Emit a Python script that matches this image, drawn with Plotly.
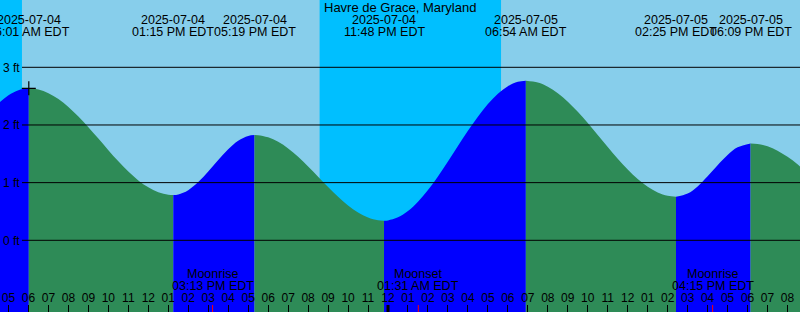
import plotly.graph_objects as go
import pandas as pd

station = "Havre de Grace, Maryland"

# Tide extremes (EDT)
ext_time = ["2025-07-04 06:01", "2025-07-04 13:15", "2025-07-04 17:19", "2025-07-04 23:48",
            "2025-07-05 06:54", "2025-07-05 14:25", "2025-07-05 18:09"]
ext_ft = [2.635, 0.785, 1.826, 0.34, 2.767, 0.756, 1.68]

# Half-hourly water level readings (ft), 2025-07-04 04:00 .. 2025-07-05 21:00
level_start = "2025-07-04 04:00"
level_step = "30min"
level_ft = [2.190, 2.375, 2.517, 2.604, 2.635, 2.615, 2.552, 2.450, 2.313, 2.147,
            1.961, 1.764, 1.563, 1.370, 1.192, 1.039, 0.918, 0.834, 0.790, 0.795,
            0.870, 1.009, 1.192, 1.392, 1.579, 1.726, 1.810, 1.823, 1.786, 1.707,
            1.592, 1.448, 1.282, 1.104, 0.925, 0.756, 0.605, 0.482, 0.395, 0.348,
            0.345, 0.398, 0.507, 0.667, 0.871, 1.108, 1.366, 1.634, 1.898, 2.144,
            2.363, 2.541, 2.672, 2.748, 2.766, 2.736, 2.663, 2.550, 2.404, 2.230,
            2.035, 1.828, 1.618, 1.415, 1.227, 1.062, 0.928, 0.829, 0.771, 0.757,
            0.811, 0.935, 1.109, 1.302, 1.480, 1.612, 1.676, 1.671, 1.629, 1.553,
            1.447, 1.317, 1.166]

# Moon events
moon_time = ["2025-07-04 15:13", "2025-07-05 01:31", "2025-07-05 16:15"]
moon_kind = ["Moonrise", "Moonset", "Moonrise"]

# Night intervals (sunset -> sunrise)
night_start = ["2025-07-03 20:35", "2025-07-04 20:34:30"]
night_end = ["2025-07-04 05:40:30", "2025-07-05 05:39:30"]

midnights = ["2025-07-05 00:00"]
y_ticks = [0, 1, 2, 3]
y_tick_text = ["0 ft", "1 ft", "2 ft", "3 ft"]

x_range = ["2025-07-04 04:34:30", "2025-07-05 20:37:30"]
y_range = [-1.243, 4.167]
FLOOR = -3

SKY_DAY = "#87CEEB"
SKY_NIGHT = "#00BFFF"
RISING = "#0000FF"
FALLING = "#2E8B57"
FONT = "Liberation Sans, Arial, sans-serif"
H = 312.0


def py(px):
    return 1 - px / H


ext_ts = [pd.Timestamp(t) for t in ext_time]
level_ts = list(pd.date_range(level_start, periods=len(level_ft), freq=level_step))

samples = [(t, v) for t, v in zip(level_ts, level_ft)
           if min(abs((t - e).total_seconds()) for e in ext_ts) > 600]
samples += list(zip(ext_ts, ext_ft))
samples.sort(key=lambda p: p[0])

bounds = [samples[0][0]] + ext_ts + [samples[-1][0]]

fig = go.Figure()
for a, b in zip(bounds[:-1], bounds[1:]):
    pts = [p for p in samples if a <= p[0] <= b]
    rising = pts[-1][1] > pts[0][1]
    fig.add_trace(go.Scatter(x=[a, b], y=[FLOOR, FLOOR], mode="lines",
                             line=dict(width=0), hoverinfo="skip", showlegend=False))
    fig.add_trace(go.Scatter(x=[p[0] for p in pts], y=[p[1] for p in pts], mode="lines",
                             line=dict(width=0, shape="spline"), fill="tonexty",
                             fillcolor=RISING if rising else FALLING,
                             hoverinfo="skip", showlegend=False))

fig.add_trace(go.Scatter(x=[ext_ts[0]], y=[ext_ft[0]], mode="markers",
                         marker=dict(symbol="cross-thin", size=10,
                                     line=dict(width=1.2, color="black")),
                         hoverinfo="skip", showlegend=False))

shapes = []
for s, e in zip(night_start, night_end):
    shapes.append(dict(type="rect", xref="x", yref="paper", x0=s, x1=e, y0=0, y1=1,
                       fillcolor=SKY_NIGHT, line=dict(width=0), layer="below"))
for v in y_ticks:
    shapes.append(dict(type="line", xref="paper", yref="y", x0=22 / 800, x1=1, y0=v, y1=v,
                       line=dict(color="black", width=1), layer="above"))
for t in moon_time:
    shapes.append(dict(type="line", xref="x", yref="paper", x0=t, x1=t, y0=0, y1=py(305),
                       line=dict(color="red", width=1), layer="above"))
for t in midnights:
    shapes.append(dict(type="line", xref="x", yref="paper", x0=t, x1=t, y0=0, y1=py(305),
                       line=dict(color="black", width=3), layer="above"))

ann = [dict(text=station, x=0.5, xref="paper", y=py(7.5), yref="paper",
            showarrow=False, xanchor="center", yanchor="middle",
            font=dict(size=13, color="black", family=FONT))]
for t in ext_ts:
    ann.append(dict(text=t.strftime("%Y-%m-%d"), x=t, xref="x", y=py(20), yref="paper",
                    showarrow=False, xanchor="center", yanchor="middle",
                    font=dict(size=12.5, color="black", family=FONT)))
    ann.append(dict(text=t.strftime("%I:%M %p EDT"), x=t, xref="x", y=py(32), yref="paper",
                    showarrow=False, xanchor="center", yanchor="middle",
                    font=dict(size=12.5, color="black", family=FONT)))
for t, k in zip(moon_time, moon_kind):
    ts = pd.Timestamp(t)
    ann.append(dict(text=k, x=ts, xref="x", y=py(273.5), yref="paper",
                    showarrow=False, xanchor="center", yanchor="middle",
                    font=dict(size=12.5, color="black", family=FONT)))
    ann.append(dict(text=ts.strftime("%I:%M %p EDT"), x=ts, xref="x", y=py(285.5), yref="paper",
                    showarrow=False, xanchor="center", yanchor="middle",
                    font=dict(size=12.5, color="black", family=FONT)))

fig.update_layout(
    width=800, height=312, margin=dict(l=0, r=0, t=0, b=0, pad=0),
    plot_bgcolor=SKY_DAY, paper_bgcolor=SKY_DAY,
    font=dict(family=FONT, size=12, color="black"),
    shapes=shapes, annotations=ann, showlegend=False,
    xaxis=dict(type="date", range=x_range, tick0="2025-07-04 00:00", dtick=3600000,
               tickformat="%I", ticks="inside", ticklen=7, tickcolor="black", tickwidth=1,
               ticklabelposition="inside", ticklabeloverflow="allow",
               showgrid=False, zeroline=False, showline=False,
               fixedrange=True, tickfont=dict(size=12, color="black", family=FONT)),
    yaxis=dict(range=y_range, tickvals=y_ticks, ticktext=y_tick_text, ticks="",
               ticklabelposition="inside", ticklabeloverflow="allow",
               showgrid=False, zeroline=False, showline=False,
               fixedrange=True, tickfont=dict(size=12, color="black", family=FONT)),
)

fig.write_html("out.html")
